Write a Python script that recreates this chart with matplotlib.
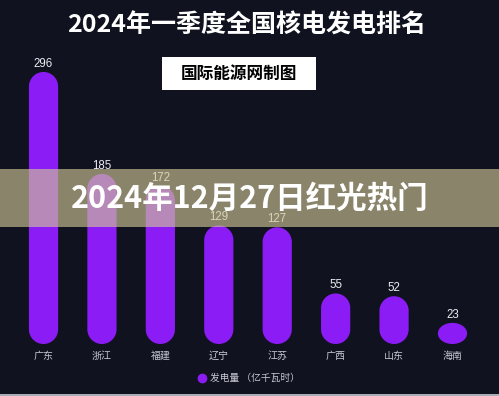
import matplotlib
matplotlib.use("Agg")
import matplotlib.pyplot as plt
from matplotlib.path import Path
from matplotlib.patches import PathPatch, Rectangle
from matplotlib.lines import Line2D

plt.rcParams['font.family'] = ['Noto Sans CJK SC', 'DejaVu Sans']

categories = ["广东", "浙江", "福建", "辽宁", "江苏", "广西", "山东", "海南"]
values = [296, 185, 172, 129, 127, 55, 52, 23]
title = "2024年一季度全国核电发电排名"
subtitle = "国际能源网制图"
banner = "2024年12月27日红光热门"
legend_label = "发电量 （亿千瓦时）"

W, H = 499, 396
BG = "#10121f"
BAR = "#8b1cf6"

fig = plt.figure(figsize=(W / 100, H / 100), dpi=100, facecolor=BG)

def fx(px):
    return px / W

def fy(py):
    return 1 - py / H

ax_left, ax_right, ax_top, ax_bottom = 14.3, 481.7, 49.9, 344.0
ax = fig.add_axes([fx(ax_left), fy(ax_bottom), fx(ax_right - ax_left), (ax_bottom - ax_top) / H])
ax.set_facecolor(BG)
ymax = 320
ax.set_xlim(-0.5, len(categories) - 0.5)
ax.set_ylim(0, ymax)
for s in ax.spines.values():
    s.set_visible(False)
ax.set_yticks([])
ax.set_xticks(range(len(categories)))
ax.set_xticklabels(categories, color="#c8c8d4", fontsize=7.2)
ax.tick_params(axis="x", length=0, pad=5)

# rounded bars
bw = 0.5
px_per_unit = (ax_bottom - ax_top) / ymax
half_px = bw / 2 * (ax_right - ax_left) / len(categories)
k = 0.5523
for i, v in enumerate(values):
    x0, x1 = i - bw / 2, i + bw / 2
    rx = bw / 2
    ry = min(half_px / px_per_unit, v / 2)
    verts = [
        (x0, 0 + ry),
        (x0, v - ry),
        (x0, v - ry + k * ry), (x0 + rx - k * rx, v), (x0 + rx, v),
        (x1 - rx + k * rx, v), (x1, v - ry + k * ry), (x1, v - ry),
        (x1, ry),
        (x1, ry - k * ry), (x1 - rx + k * rx, 0), (x1 - rx, 0),
        (x0 + rx - k * rx, 0), (x0, ry - k * ry), (x0, ry),
        (x0, ry),
    ]
    codes = ([Path.MOVETO, Path.LINETO] + [Path.CURVE4] * 6 + [Path.LINETO]
             + [Path.CURVE4] * 6 + [Path.CLOSEPOLY])
    ax.add_patch(PathPatch(Path(verts, codes), facecolor=BAR, edgecolor="none", zorder=2))
    ax.annotate(str(v), (i, v), xytext=(0, 5.8), textcoords="offset points",
                ha="center", va="center", color="#ececf2", fontsize=8.3,
                family=["Liberation Sans", "DejaVu Sans"], zorder=3)

# legend
handle = Line2D([], [], marker="o", linestyle="none", markersize=7,
                markerfacecolor=BAR, markeredgecolor="none")
leg = fig.legend([handle], [legend_label], loc="center",
                 bbox_to_anchor=(fx(249), fy(378)), frameon=False,
                 fontsize=7, handlelength=0.8, handletextpad=0.5, borderpad=0)
for t in leg.get_texts():
    t.set_color("#c8c8d4")

# title
fig.text(fx(247), fy(26), title, ha="center", va="center", color="white",
         fontsize=18, fontweight="bold")

# subtitle box
fig.add_artist(Rectangle((fx(162), fy(90)), fx(316 - 162), (90 - 57) / H,
                         transform=fig.transFigure, facecolor="white",
                         edgecolor="none", zorder=3))
fig.text(fx(239), fy(73.5), subtitle, ha="center", va="center", color="black",
         fontsize=12, fontweight="bold", zorder=4)

# banner overlay
fig.add_artist(Rectangle((0, fy(227)), 1, (227 - 169) / H,
                         transform=fig.transFigure, facecolor="#d0c796",
                         alpha=0.64, edgecolor="none", zorder=5))
fig.text(fx(250), fy(199), banner, ha="center", va="center", color="white",
         fontsize=22, fontweight="bold", zorder=6)

# bottom gray strip
fig.add_artist(Rectangle((0, 0), 1, 2.5 / H, transform=fig.transFigure,
                         facecolor="#a9adb5", edgecolor="none", zorder=5))

fig.savefig("out.png", dpi=100, facecolor=BG)
